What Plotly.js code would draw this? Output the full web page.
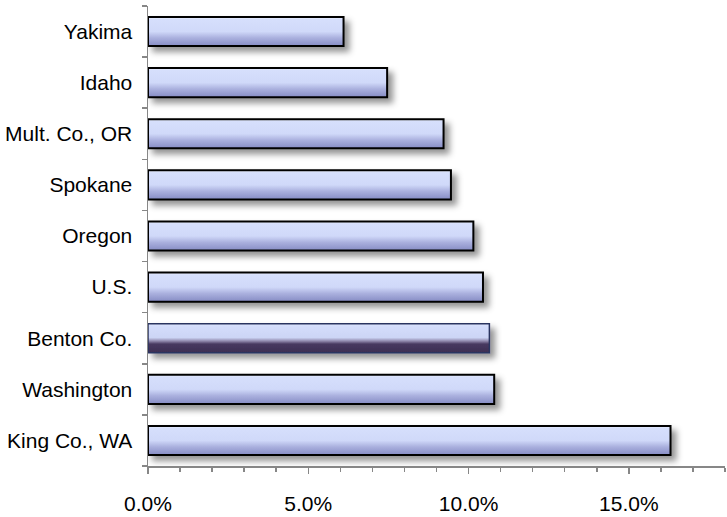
<!DOCTYPE html>
<html>
<head>
<meta charset="utf-8">
<script src="https://cdn.plot.ly/plotly-3.0.1.min.js"></script>
<style>
  html, body { margin: 0; padding: 0; background: #ffffff; }
  #chart { width: 727px; height: 517px; }
</style>
</head>
<body>
<div id="chart"></div>
<script>
// Regions listed bottom-to-top (Plotly places the first category at the bottom)
var regions = ['King Co., WA', 'Washington', 'Benton Co.', 'U.S.', 'Oregon',
               'Spokane', 'Mult. Co., OR', 'Idaho', 'Yakima'];
// Rate for each region, in percent
var rates = [16.3, 10.8, 10.65, 10.45, 10.15, 9.45, 9.22, 7.46, 6.1];
// Region drawn with the highlight colouring
var highlighted = 'Benton Co.';
// X axis tick values and labels
var xTickVals = [0, 5, 10, 15];
var xTickText = ['0.0%', '5.0%', '10.0%', '15.0%'];

var axisGrey = '#878787';
var labelFont = { family: 'Liberation Sans, Arial, sans-serif', size: 21, color: '#000000' };

var lineColors = regions.map(function (r) { return r === highlighted ? '#2a3560' : '#000000'; });
var lineWidths = regions.map(function (r) { return r === highlighted ? 1.5 : 2; });

var trace = {
  type: 'bar',
  orientation: 'h',
  y: regions,
  x: rates,
  width: 0.57,
  marker: {
    color: '#d0d9f9',
    line: { color: lineColors, width: lineWidths }
  },
  hoverinfo: 'skip'
};

var layout = {
  width: 727,
  height: 517,
  margin: { l: 148, r: 2, t: 6, b: 51 },
  paper_bgcolor: '#ffffff',
  plot_bgcolor: '#ffffff',
  showlegend: false,
  font: labelFont,
  xaxis: {
    range: [0, 18],
    tickmode: 'array',
    tickvals: xTickVals,
    ticktext: xTickText,
    ticks: 'outside',
    ticklen: 6,
    tickwidth: 1.5,
    tickcolor: axisGrey,
    ticklabelstandoff: 12,
    minor: { dtick: 1, tick0: 0, ticks: 'outside', ticklen: 4, tickwidth: 1.5, tickcolor: axisGrey },
    showline: true,
    linecolor: axisGrey,
    linewidth: 1.5,
    showgrid: false,
    zeroline: false,
    tickfont: labelFont,
    fixedrange: true
  },
  yaxis: {
    type: 'category',
    categoryorder: 'array',
    categoryarray: regions,
    range: [-0.5, regions.length - 0.5],
    tickson: 'boundaries',
    ticks: 'outside',
    ticklen: 5,
    tickwidth: 1.5,
    tickcolor: axisGrey,
    ticklabelstandoff: 10,
    showline: true,
    linecolor: axisGrey,
    linewidth: 1.5,
    showgrid: false,
    zeroline: false,
    tickfont: labelFont,
    fixedrange: true
  }
};

function svgEl(name, attrs) {
  var el = document.createElementNS('http://www.w3.org/2000/svg', name);
  Object.keys(attrs).forEach(function (k) { el.setAttribute(k, attrs[k]); });
  return el;
}

function addGradient(defs, id, stops) {
  var g = svgEl('linearGradient', { id: id, x1: '0', y1: '0', x2: '0', y2: '1' });
  stops.forEach(function (s) {
    g.appendChild(svgEl('stop', { offset: s[0], 'stop-color': s[1] }));
  });
  defs.appendChild(g);
}

Plotly.newPlot('chart', [trace], layout, { displayModeBar: false, staticPlot: true }).then(function (gd) {
  // Glossy vertical gradients and a soft drop shadow for the bars
  var svg = gd.querySelector('.main-svg');
  var defs = svgEl('defs', {});
  addGradient(defs, 'barGradStd', [
    ['0', '#eef2ff'], ['0.08', '#d6dffc'], ['0.5', '#d0d9f9'],
    ['0.72', '#aab0de'], ['1', '#868cc4']
  ]);
  addGradient(defs, 'barGradHi', [
    ['0', '#e6ecff'], ['0.08', '#d4ddfb'], ['0.48', '#ccd5f5'],
    ['0.6', '#8f86aa'], ['0.7', '#47385f'], ['1', '#3d2e53']
  ]);
  var filter = svgEl('filter', { id: 'barShadow', x: '-5%', y: '-30%', width: '115%', height: '190%' });
  filter.appendChild(svgEl('feDropShadow', {
    dx: '5', dy: '5', stdDeviation: '3', 'flood-color': '#000000', 'flood-opacity': '0.42'
  }));
  defs.appendChild(filter);
  svg.insertBefore(defs, svg.firstChild);

  var paths = gd.querySelectorAll('.barlayer .trace .point path');
  paths.forEach(function (p, i) {
    var id = regions[i] === highlighted ? 'barGradHi' : 'barGradStd';
    p.style.fill = 'url(#' + id + ')';
    p.setAttribute('filter', 'url(#barShadow)');
  });
});
</script>
</body>
</html>
